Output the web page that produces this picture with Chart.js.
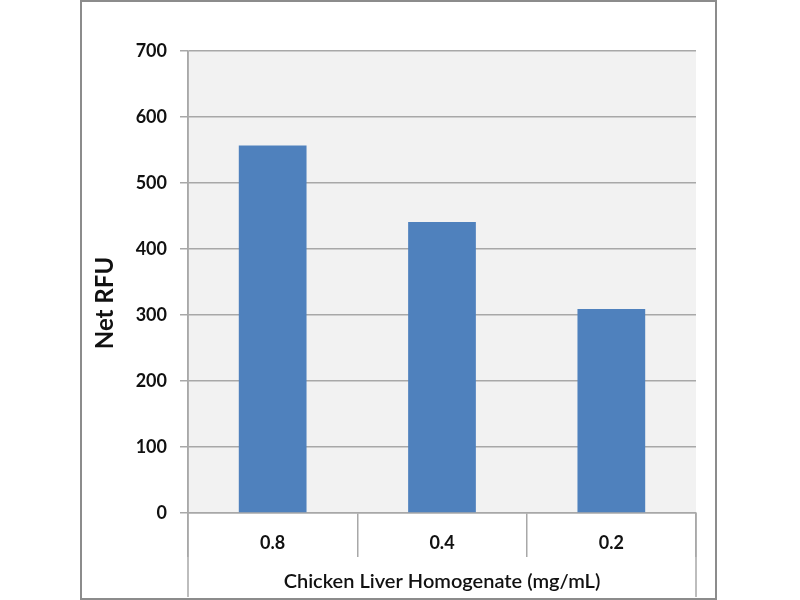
<!DOCTYPE html>
<html>
<head>
<meta charset="utf-8">
<script src="https://cdn.jsdelivr.net/npm/chart.js@4"></script>
<style>
  html, body { margin: 0; padding: 0; background: #fff; }
  #wrap { width: 800px; height: 600px; }
</style>
</head>
<body>
<div id="wrap"><canvas id="c" width="800" height="600"></canvas></div>
<script>
const categories = ['0.8', '0.4', '0.2'];
const netRFU = [557, 441, 309];
const yTicks = [0, 100, 200, 300, 400, 500, 600, 700];
const xTitle = 'Chicken Liver Homogenate (mg/mL)';
const yTitle = 'Net RFU';

const GRID = '#a8a8a8';
const FONT = 'Lato, "Open Sans", sans-serif';

const decor = {
  id: 'decor',
  beforeDraw(chart) {
    const {ctx, chartArea: a} = chart;
    ctx.save();
    ctx.fillStyle = '#f2f2f2';
    ctx.fillRect(a.left, a.top, a.right - a.left, a.bottom - a.top);
    ctx.restore();
  },
  afterDraw(chart) {
    const {ctx, chartArea: a} = chart;
    const x = chart.scales.x;
    const y = chart.scales.y;
    ctx.save();
    // extend plot edges down to the bottom of the axis band
    ctx.strokeStyle = GRID;
    ctx.lineWidth = 1.5;
    ctx.beginPath();
    ctx.moveTo(a.left, a.top);
    ctx.lineTo(a.left, x.bottom);
    ctx.moveTo(a.right, a.bottom);
    ctx.lineTo(a.right, x.bottom);
    ctx.stroke();
    // outer frame
    const frameTop = 1;
    ctx.strokeStyle = '#8c8c8c';
    ctx.lineWidth = 2;
    ctx.strokeRect(y.left, frameTop, a.right + 20 - y.left, x.bottom + 1 - frameTop + 1);
    // y-axis title, centred on the frame height
    ctx.fillStyle = '#111';
    ctx.font = 'bold 24px ' + FONT;
    ctx.textAlign = 'center';
    ctx.textBaseline = 'middle';
    ctx.translate(y.left + 24, (frameTop + x.bottom) / 2 + 4);
    ctx.rotate(-Math.PI / 2);
    ctx.fillText(yTitle, 0, 0);
    ctx.restore();
  }
};

new Chart(document.getElementById('c'), {
  type: 'bar',
  data: {
    labels: categories,
    datasets: [{
      label: yTitle,
      data: netRFU,
      backgroundColor: '#4f81bd',
      borderWidth: 0,
      barPercentage: 0.4,
      categoryPercentage: 1.0
    }]
  },
  options: {
    responsive: false,
    animation: false,
    devicePixelRatio: 1,
    layout: { padding: { left: 81, right: 104, top: 51, bottom: 3 } },
    plugins: { legend: { display: false }, tooltip: { enabled: false } },
    scales: {
      x: {
        afterFit(s) { s.height = 84; },
        grid: {
          offset: true,
          drawOnChartArea: false,
          drawTicks: true,
          tickLength: 44,
          color: GRID,
          lineWidth: 1.5
        },
        border: { display: true, color: GRID, width: 1.5 },
        ticks: {
          padding: -25,
          color: '#111',
          font: { family: FONT, size: 18, weight: 'bold' }
        },
        title: {
          display: true,
          text: xTitle,
          color: '#111',
          padding: { top: 0, bottom: 3 },
          font: { family: FONT, size: 20, weight: '600' }
        }
      },
      y: {
        min: 0,
        max: 700,
        afterFit(s) { s.width = 107; },
        afterBuildTicks(s) { s.ticks = yTicks.map(v => ({ value: v })); },
        grid: {
          color: GRID,
          lineWidth: 1.5,
          drawTicks: true,
          tickLength: 8
        },
        border: { display: true, color: GRID, width: 1.5 },
        ticks: {
          padding: 13,
          color: '#111',
          font: { family: FONT, size: 18, weight: 'bold' }
        },
        title: { display: false, text: yTitle }
      }
    }
  },
  plugins: [decor]
});
</script>
</body>
</html>
